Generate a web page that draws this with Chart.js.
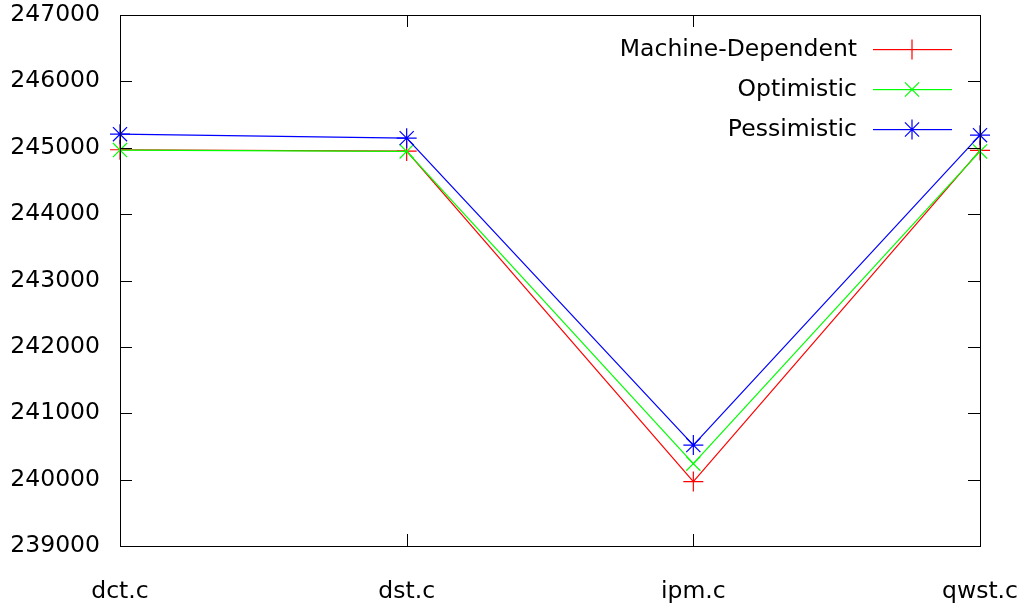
<!DOCTYPE html>
<html>
<head>
<meta charset="utf-8">
<script src="https://cdn.jsdelivr.net/npm/chart.js@4/dist/chart.umd.min.js"></script>
<style>
  html, body { margin: 0; padding: 0; background: #fff; }
  #wrap { width: 1027px; height: 609px; }
</style>
</head>
<body>
<div id="wrap"><canvas id="chart" width="1027" height="609"></canvas></div>
<script>
const categories = ['dct.c', 'dst.c', 'ipm.c', 'qwst.c'];
const machineDependent = [244970, 244950, 239970, 244960];
const optimistic = [244965, 244945, 240240, 244945];
const pessimistic = [245205, 245145, 240520, 245190];
const yTicks = [239000, 240000, 241000, 242000, 243000, 244000, 245000, 246000, 247000];

const FONT = '"DejaVu Sans", sans-serif';
const FSIZE = 23.5;

// gnuplot-style frame with inward ticks on all four sides
const framePlugin = {
    id: 'frame',
    afterDraw(chart) {
        const { ctx, chartArea: a, scales } = chart;
        ctx.save();
        ctx.strokeStyle = '#000';
        ctx.lineWidth = 1;
        ctx.strokeRect(a.left + 0.5, a.top + 0.5, a.right - a.left, a.bottom - a.top);
        ctx.beginPath();
        yTicks.forEach(v => {
            const y = Math.round(scales.y.getPixelForValue(v)) + 0.5;
            ctx.moveTo(a.left, y); ctx.lineTo(a.left + 12, y);
            ctx.moveTo(a.right, y); ctx.lineTo(a.right - 12, y);
        });
        categories.forEach((c, i) => {
            const x = Math.round(scales.x.getPixelForValue(i)) + 0.5;
            ctx.moveTo(x, a.bottom); ctx.lineTo(x, a.bottom - 12);
            ctx.moveTo(x, a.top); ctx.lineTo(x, a.top + 12);
        });
        ctx.stroke();
        ctx.restore();
    }
};

// legend inside top right: right aligned text, line sample with marker
const legendPlugin = {
    id: 'gpLegend',
    afterDraw(chart) {
        const { ctx } = chart;
        ctx.save();
        ctx.font = FSIZE + 'px ' + FONT;
        ctx.textAlign = 'right';
        ctx.textBaseline = 'middle';
        chart.data.datasets.forEach((ds, i) => {
            const y = 49 + i * 40;
            const color = ds.borderColor;
            ctx.fillStyle = '#000';
            ctx.fillText(ds.label, 857, y + 1);
            ctx.fillStyle = color;
            ctx.fillRect(873, y, 79, 1.2);
            ctx.strokeStyle = color;
            ctx.lineWidth = 1.2;
            Chart.helpers.drawPoint(ctx, {
                pointStyle: ds.pointStyle, radius: ds.pointRadius, borderWidth: 1.2
            }, 912, y + 0.5);
        });
        ctx.restore();
    }
};

const mk = (label, data, color, style, order) => ({
    label, data, order,
    borderColor: color, backgroundColor: color,
    borderWidth: 1.2, pointStyle: style, pointRadius: 10,
    pointBorderWidth: 1.2, pointHoverRadius: 10,
    tension: 0, fill: false, clip: false
});

new Chart(document.getElementById('chart'), {
    type: 'line',
    data: {
        labels: categories,
        datasets: [
            mk('Machine-Dependent', machineDependent, '#ff0000', 'cross', 3),
            mk('Optimistic', optimistic, '#00ff00', 'crossRot', 2),
            mk('Pessimistic', pessimistic, '#0000ff', 'star', 1)
        ]
    },
    options: {
        responsive: false,
        animation: false,
        events: [],
        layout: { padding: { top: 15, right: 47, left: 0, bottom: 0 } },
        plugins: { legend: { display: false }, tooltip: { enabled: false } },
        scales: {
            x: {
                offset: false,
                grid: { display: false, drawTicks: false },
                border: { display: false },
                ticks: { color: '#000', font: { family: FONT, size: FSIZE }, padding: 32, maxRotation: 0 },
                afterFit(s) { s.height = 63; s.paddingLeft = 0; s.paddingRight = 0; }
            },
            y: {
                min: 239000, max: 247000,
                afterBuildTicks(s) { s.ticks = yTicks.map(v => ({ value: v })); },
                grid: { display: false, drawTicks: false },
                border: { display: false },
                ticks: {
                    color: '#000', font: { family: FONT, size: FSIZE }, padding: 20,
                    callback: v => String(v)
                },
                afterFit(s) { s.width = 120; s.paddingTop = 0; s.paddingBottom = 0; }
            }
        }
    },
    plugins: [framePlugin, legendPlugin]
});
</script>
</body>
</html>
